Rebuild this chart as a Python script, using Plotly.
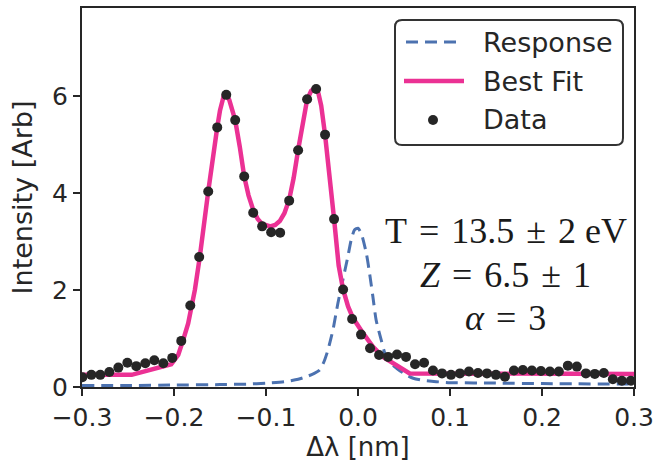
import plotly.graph_objects as go

# Measured spectrum: wavelength shift (nm) and intensity (arb. units)
data_x = [
    -0.2996, -0.2898, -0.2801, -0.2703, -0.2605, -0.2507, -0.2410, -0.2312,
    -0.2214, -0.2116, -0.2019, -0.1921, -0.1823, -0.1726, -0.1628, -0.1530,
    -0.1432, -0.1335, -0.1237, -0.1139, -0.1042, -0.0944, -0.0846, -0.0748,
    -0.0651, -0.0553, -0.0455, -0.0358, -0.0260, -0.0162, -0.0064, 0.0033,
    0.0131, 0.0229, 0.0327, 0.0424, 0.0522, 0.0620, 0.0718, 0.0815,
    0.0913, 0.1011, 0.1108, 0.1206, 0.1304, 0.1402, 0.1499, 0.1597,
    0.1695, 0.1792, 0.1890, 0.1988, 0.2086, 0.2183, 0.2281, 0.2379,
    0.2477, 0.2574, 0.2672, 0.2770, 0.2868, 0.2965,
]
data_y = [
    0.20, 0.25, 0.25, 0.31, 0.40, 0.50, 0.43, 0.49,
    0.55, 0.49, 0.60, 0.95, 1.68, 2.68, 4.03, 5.35,
    6.02, 5.50, 4.34, 3.59, 3.31, 3.19, 3.18, 3.84,
    4.88, 5.93, 6.14, 5.20, 3.46, 2.01, 1.40, 1.08,
    0.80, 0.66, 0.62, 0.67, 0.62, 0.47, 0.50, 0.34,
    0.28, 0.25, 0.28, 0.32, 0.29, 0.28, 0.25, 0.21,
    0.34, 0.35, 0.34, 0.33, 0.32, 0.32, 0.44, 0.42,
    0.28, 0.27, 0.29, 0.16, 0.13, 0.13,
]

# Best-fit model curve
fit_x = [
    -0.300, -0.246, -0.203, -0.1954, -0.190, -0.1846, -0.1773, -0.1719,
    -0.1628, -0.158, -0.153, -0.150, -0.145, -0.140, -0.1335, -0.1285,
    -0.1237, -0.119, -0.1139, -0.109, -0.1042, -0.0953, -0.090, -0.085,
    -0.080, -0.0748, -0.070, -0.0651, -0.060, -0.0553, -0.051, -0.047,
    -0.043, -0.040, -0.0358, -0.031, -0.026, -0.021, -0.0162, -0.0108,
    -0.0054, 0.0055, 0.0163, 0.0272, 0.0380, 0.0489, 0.0562, 0.300,
]
fit_y = [
    0.25, 0.25, 0.47, 0.66, 0.97, 1.31, 2.00, 2.69,
    4.03, 4.75, 5.35, 5.70, 6.07, 5.92, 5.50, 4.95,
    4.34, 3.95, 3.65, 3.46, 3.36, 3.31, 3.34, 3.42,
    3.58, 3.86, 4.30, 4.88, 5.45, 5.92, 6.10, 6.16,
    6.05, 5.80, 5.20, 4.40, 3.46, 2.50, 2.01, 1.66,
    1.42, 1.11, 0.83, 0.62, 0.49, 0.35, 0.28, 0.27,
]

# Instrument response function
resp_x = [
    -0.300, -0.250, -0.200, -0.150, -0.120, -0.100, -0.080, -0.065,
    -0.055, -0.0475, -0.0417, -0.037, -0.0327, -0.0272, -0.0218, -0.0164,
    -0.011, -0.0074, -0.0037, 0.000, 0.0035, 0.009, 0.0126, 0.0162,
    0.0197, 0.0252, 0.0306, 0.0397, 0.0523, 0.060, 0.070, 0.085,
    0.100, 0.150, 0.200, 0.300,
]
resp_y = [
    0.03, 0.03, 0.04, 0.05, 0.06, 0.08, 0.11, 0.16,
    0.22, 0.28, 0.35, 0.52, 0.76, 1.18, 1.73, 2.21,
    2.69, 3.03, 3.24, 3.27, 3.17, 2.76, 2.34, 1.86,
    1.38, 0.97, 0.62, 0.42, 0.25, 0.18, 0.14, 0.11,
    0.09, 0.08, 0.07, 0.06,
]

x_ticks = [-0.3, -0.2, -0.1, 0.0, 0.1, 0.2, 0.3]
x_ticktext = ["\u22120.3", "\u22120.2", "\u22120.1", "0.0", "0.1", "0.2", "0.3"]
y_ticks = [0, 2, 4, 6]

series_names = ["Response", "Best Fit", "Data"]

SP = "\u2004"  # wider math-style spacing around operators
param_lines = [
    f"T{SP}={SP}13.5{SP}\u00b1{SP}2 eV",
    f"<i>Z</i>{SP}={SP}6.5{SP}\u00b1{SP}1",
    f"<i>\u03b1</i>{SP}={SP}3",
]
param_y = [3.22, 2.31, 1.42]

INK = "#262626"
PINK = "#eb3194"
BLUE = "#4c72b0"

FIG_W, FIG_H = 655, 466
M_L, M_R, M_T, M_B = 82, 21, 8, 79
PLOT_W = FIG_W - M_L - M_R
PLOT_H = FIG_H - M_T - M_B


def px(xp):
    """Horizontal pixel position -> paper coordinate."""
    return (xp - M_L) / PLOT_W


def py(yp):
    """Vertical pixel position (from top) -> paper coordinate."""
    return (FIG_H - M_B - yp) / PLOT_H


resp_line = dict(color=BLUE, width=3, dash="12px,7px")
fit_line = dict(color=PINK, width=4.5)

fig = go.Figure()
fig.add_trace(go.Scatter(
    x=resp_x, y=resp_y, mode="lines", name=series_names[0],
    line=dict(**resp_line, shape="spline", smoothing=0.6),
))
fig.add_trace(go.Scatter(
    x=fit_x, y=fit_y, mode="lines", name=series_names[1], line=fit_line,
))
fig.add_trace(go.Scatter(
    x=data_x, y=data_y, mode="markers", name=series_names[2],
    marker=dict(color=INK, size=10),
))

# Fit-parameter text block
for txt, yy in zip(param_lines, param_y):
    fig.add_annotation(
        x=0.1605, y=yy, xref="x", yref="y", text=txt, showarrow=False,
        xanchor="center", yanchor="middle",
        font=dict(family="Liberation Serif", size=36, color="#1a1a1a"),
    )

# Legend box with rounded corners
bx0, bx1, by0, by1, r = 395, 623, 20, 145, 7
rx, ry = r / PLOT_W, r / PLOT_H
X0, X1, Y0, Y1 = px(bx0), px(bx1), py(by1), py(by0)
box_path = (
    f"M{X0 + rx},{Y1} L{X1 - rx},{Y1} Q{X1},{Y1} {X1},{Y1 - ry} "
    f"L{X1},{Y0 + ry} Q{X1},{Y0} {X1 - rx},{Y0} "
    f"L{X0 + rx},{Y0} Q{X0},{Y0} {X0},{Y0 + ry} "
    f"L{X0},{Y1 - ry} Q{X0},{Y1} {X0 + rx},{Y1} Z"
)
shapes = [dict(type="path", path=box_path, xref="paper", yref="paper",
               line=dict(color="#333333", width=2), fillcolor="white", layer="above")]

rows = [42, 81, 120]
shapes.append(dict(type="line", xref="paper", yref="paper",
                   x0=px(406), x1=px(461), y0=py(rows[0]), y1=py(rows[0]),
                   line=resp_line, layer="above"))
shapes.append(dict(type="line", xref="paper", yref="paper",
                   x0=px(404), x1=px(464), y0=py(rows[1]), y1=py(rows[1]),
                   line=fit_line, layer="above"))
shapes.append(dict(type="circle", xref="paper", yref="paper",
                   x0=px(428), x1=px(438), y0=py(rows[2] + 5), y1=py(rows[2] - 5),
                   fillcolor=INK, line=dict(color=INK, width=0), layer="above"))

for name, row in zip(series_names, rows):
    fig.add_annotation(
        x=px(481), y=py(row), xref="paper", yref="paper", text=name,
        showarrow=False, xanchor="left", yanchor="middle",
        font=dict(size=27, color=INK),
    )

axis_common = dict(
    showline=True, linecolor=INK, linewidth=2, mirror=True,
    ticks="outside", ticklen=7, tickwidth=2, tickcolor=INK,
    showgrid=False, zeroline=False, automargin=False,
    tickfont=dict(size=25, color=INK),
)

fig.update_layout(
    width=FIG_W, height=FIG_H,
    margin=dict(l=M_L, r=M_R, t=M_T, b=M_B),
    paper_bgcolor="white", plot_bgcolor="white",
    font=dict(family="DejaVu Sans", color=INK),
    xaxis=dict(range=[-0.3, 0.3], tickvals=x_ticks, ticktext=x_ticktext,
               title=dict(text="\u0394\u03bb [nm]", font=dict(size=26), standoff=6),
               **axis_common),
    yaxis=dict(range=[0, 7.81], tickvals=y_ticks,
               title=dict(text="Intensity [Arb]", font=dict(size=27), standoff=12),
               **axis_common),
    shapes=shapes,
    showlegend=False,
)

fig.write_html("out.html")
